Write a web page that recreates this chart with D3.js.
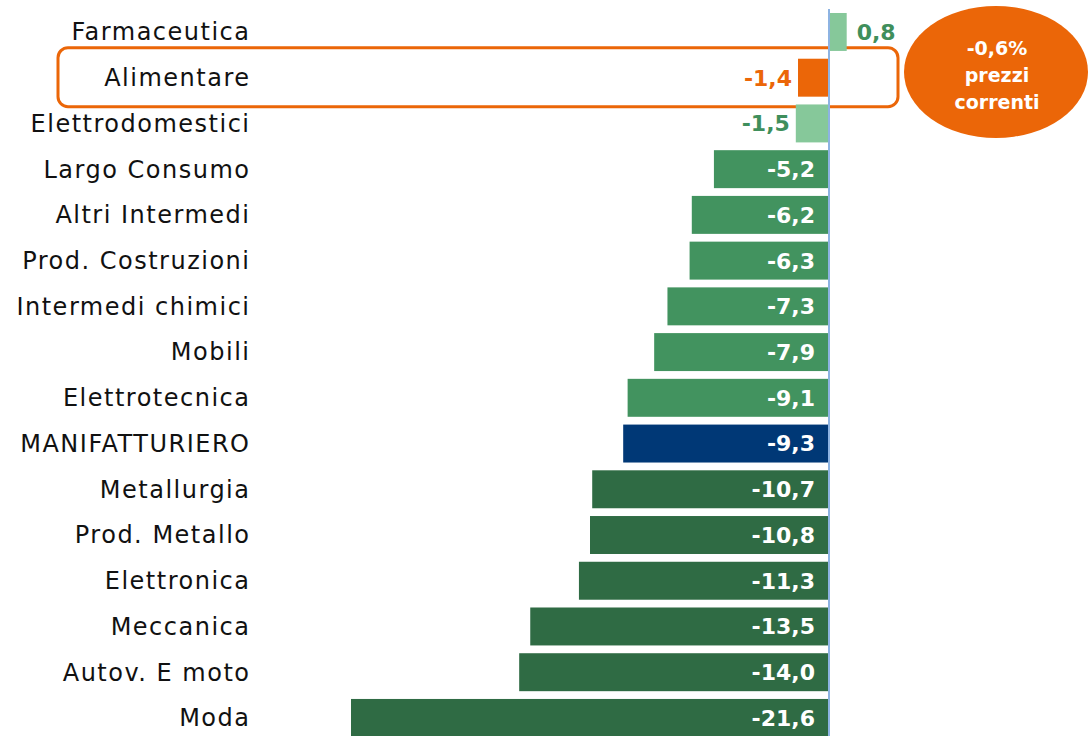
<!DOCTYPE html>
<html><head><meta charset="utf-8">
<script src="https://cdn.jsdelivr.net/npm/d3@7"></script>
<style>html,body{margin:0;padding:0;background:#fff;overflow:hidden}</style>
</head><body>
<svg id="chart" width="1088" height="736"></svg>
<script>
const categories = ["Farmaceutica","Alimentare","Elettrodomestici","Largo Consumo","Altri Intermedi","Prod. Costruzioni","Intermedi chimici","Mobili","Elettrotecnica","MANIFATTURIERO","Metallurgia","Prod. Metallo","Elettronica","Meccanica","Autov. E moto","Moda"];
const values = [0.8,-1.4,-1.5,-5.2,-6.2,-6.3,-7.3,-7.9,-9.1,-9.3,-10.7,-10.8,-11.3,-13.5,-14.0,-21.6];
const groups = ["light","highlight","light","mid","mid","mid","mid","mid","mid","total","dark","dark","dark","dark","dark","dark"];
const bubbleLines = ["-0,6%","prezzi","correnti"];

const fill = {light:"#86c89a", highlight:"#eb6608", mid:"#42935f", total:"#003876", dark:"#2f6b44"};
const outLabel = {light:"#3f8f5c", highlight:"#eb6608"};
const font = "'DejaVu Sans', sans-serif";

const svg = d3.select("#chart");
const x = d3.scaleLinear().domain([-21.6, 0.8]).range([351, 846.7]);
const y = d3.scaleBand().domain(categories).range([9.1, 740.8]).paddingInner(0.17).paddingOuter(0.085);
const fmt = v => d3.format(".1f")(v).replace(".", ",").replace("−","-");

// highlight box
const ya = y("Alimentare");
svg.append("rect").attr("x",58).attr("y",ya + y.bandwidth()/2 - 30).attr("width",840).attr("height",59)
  .attr("rx",10).attr("fill","none").attr("stroke","#eb6608").attr("stroke-width",3);

// bars
svg.append("g").selectAll("rect").data(values).join("rect")
  .attr("x",d=>x(Math.min(0,d))).attr("width",d=>Math.abs(x(d)-x(0)))
  .attr("y",(d,i)=>y(categories[i])).attr("height",y.bandwidth())
  .attr("fill",(d,i)=>fill[groups[i]]);

// zero line
svg.append("line").attr("x1",x(0)).attr("x2",x(0)).attr("y1",9).attr("y2",736)
  .attr("stroke","#8db3e2").attr("stroke-width",2);

// category labels
svg.append("g").selectAll("text").data(categories).join("text")
  .attr("x",250.5).attr("y",d=>y(d)+y.bandwidth()/2).attr("dy","0.35em")
  .attr("text-anchor","end").attr("font-family",font).attr("font-size",24).attr("letter-spacing",1.5).attr("fill","#111")
  .text(d=>d);

// value labels
svg.append("g").selectAll("text").data(values).join("text")
  .attr("y",(d,i)=>y(categories[i])+y.bandwidth()/2).attr("dy","0.36em")
  .attr("font-family",font).attr("font-weight","bold").attr("font-size",22)
  .each(function(d,i){
    const t = d3.select(this);
    if (Math.abs(d) < 2) {
      t.attr("fill", outLabel[groups[i]]);
      if (d >= 0) t.attr("x", x(d)+10).attr("text-anchor","start");
      else t.attr("x", x(d)-6).attr("text-anchor","end");
    } else {
      t.attr("fill","#fff").attr("x", x(0)-14).attr("text-anchor","end");
    }
  })
  .text(d=>fmt(d));

// bubble
svg.append("ellipse").attr("cx",996).attr("cy",72).attr("rx",92).attr("ry",66).attr("fill","#eb6608");
svg.append("g").selectAll("text").data(bubbleLines).join("text")
  .attr("x",997).attr("y",(d,i)=>48+i*27).attr("dy","0.35em").attr("text-anchor","middle")
  .attr("font-family",font).attr("font-weight","bold").attr("font-size",19).attr("fill","#fff")
  .text(d=>d);
</script>
</body></html>
